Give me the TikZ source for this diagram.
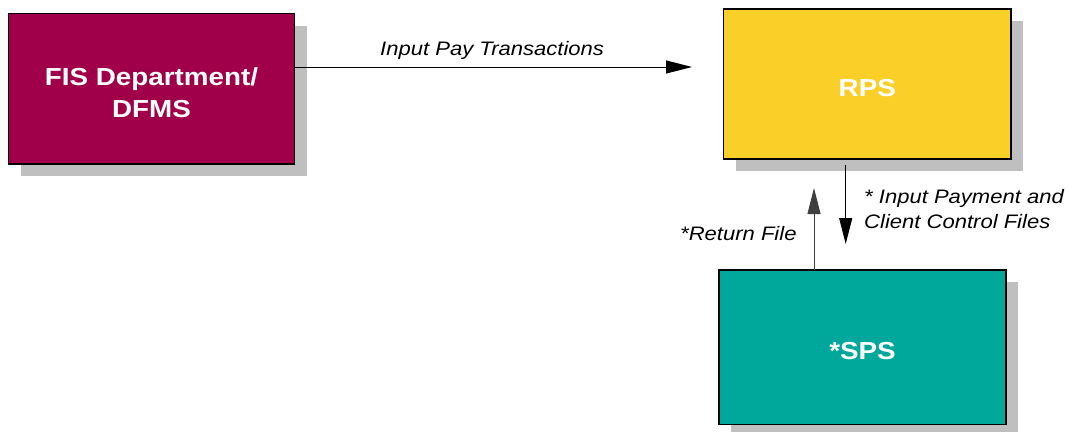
\documentclass[tikz,border=0pt]{standalone}
\usepackage{fontspec}
\setmainfont{Liberation Sans}
\usepackage{graphicx}
\usetikzlibrary{arrows.meta,shadows}
\newcommand\hstr[1]{\scalebox{1.13}[1]{#1}}
\definecolor{fiscol}{RGB}{160,0,74}
\definecolor{rpscol}{RGB}{250,208,40}
\definecolor{spscol}{RGB}{0,168,156}
\definecolor{shadowcol}{RGB}{191,191,191}
\begin{document}
\begin{tikzpicture}[x=1pt,y=-1pt,
  box/.style={draw=black, line width=1.2pt, inner sep=0pt, outer sep=0pt,
    text=white, align=center, text height=25pt,
    font=\fontsize{24.6}{32}\selectfont\bfseries,
    drop shadow={shadow xshift=12pt, shadow yshift=-12pt, fill=shadowcol, opacity=1}},
  conn/.style={draw=black, line width=1pt, -{Triangle[length=26pt,width=13pt]}},
  lbl/.style={font=\fontsize{19.5}{25}\selectfont\itshape, inner sep=0pt, align=left}]
\useasboundingbox (0,0) rectangle (1068,431);
\node[box, fill=fiscol, text height=57pt, minimum width=286pt, minimum height=150.5pt] (fis) at (151.5,88.75)
  {\hstr{FIS Department/}\\\hstr{DFMS}};
\node[box, fill=rpscol, minimum width=287.5pt, minimum height=150pt] (rps) at (867.25,84)
  {\hstr{RPS}};
\node[box, fill=spscol, minimum width=287pt, minimum height=154.5pt] (sps) at (862.5,347.25)
  {\hstr{*SPS}};
\coordinate (a1e) at (692,67);
\coordinate (d1e) at (845.7,244);
\coordinate (u1e) at (814,188);
\draw[conn] (fis.east |- a1e) -- (a1e);
\draw[conn, shorten <=6pt] (rps.south -| d1e) -- (d1e);
\draw[conn, draw=black!75] (sps.north -| u1e) -- (u1e);
\node[lbl, anchor=base west] (l1) at (380,55.3) {\hstr{Input Pay Transactions}};
\node[lbl, anchor=base west] (l2) at (864,228) {\hstr{* Input Payment and}\\\hstr{Client Control Files}};
\node[lbl, anchor=base west] (l3) at (680,240) {\hstr{*Return File}};
\end{tikzpicture}
\end{document}
